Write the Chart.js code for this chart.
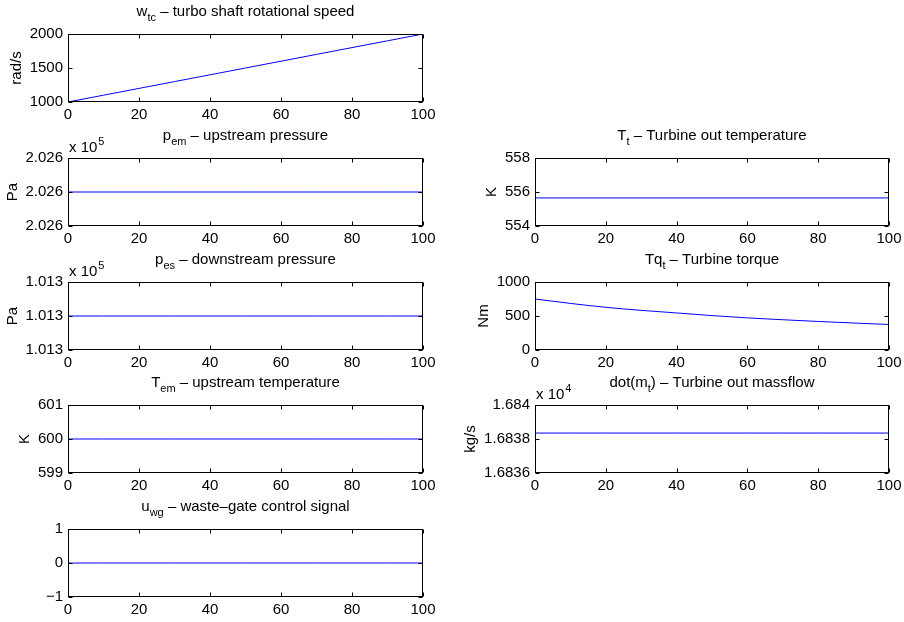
<!DOCTYPE html>
<html>
<head>
<meta charset="utf-8">
<script src="https://cdn.jsdelivr.net/npm/chart.js@4.4.0/dist/chart.umd.min.js"></script>
<style>
  html, body { margin: 0; padding: 0; background: #fff; overflow: hidden; }
  body { width: 904px; height: 622px; position: relative; }
  canvas { position: absolute; }
</style>
</head>
<body>
<script>
// time samples, shared by every subplot
const time = [0, 10, 20, 30, 40, 50, 60, 70, 80, 90, 100];
const xTicks = [0, 20, 40, 60, 80, 100];

// w_tc - turbo shaft rotational speed
const wTc = [1000, 1100, 1200, 1300, 1400, 1500, 1600, 1700, 1800, 1900, 2000];
const wTcTicks = [1000, 1500, 2000];
const wTcLabels = ['1000', '1500', '2000'];

// p_em - upstream pressure
const pEm = [202600, 202600, 202600, 202600, 202600, 202600, 202600, 202600, 202600, 202600, 202600];
const pEmTicks = [202599.99, 202600, 202600.01];
const pEmLabels = ['2.026', '2.026', '2.026'];

// p_es - downstream pressure
const pEs = [101300, 101300, 101300, 101300, 101300, 101300, 101300, 101300, 101300, 101300, 101300];
const pEsTicks = [101299.99, 101300, 101300.01];
const pEsLabels = ['1.013', '1.013', '1.013'];

// T_em - upstream temperature
const tEm = [600, 600, 600, 600, 600, 600, 600, 600, 600, 600, 600];
const tEmTicks = [599, 600, 601];
const tEmLabels = ['599', '600', '601'];

// u_wg - waste-gate control signal
const uWg = [0, 0, 0, 0, 0, 0, 0, 0, 0, 0, 0];
const uWgTicks = [-1, 0, 1];
const uWgLabels = ['\u22121', '0', '1'];

// T_t - turbine out temperature
const tT = [555.65, 555.65, 555.65, 555.65, 555.65, 555.65, 555.65, 555.65, 555.65, 555.65, 555.65];
const tTTicks = [554, 556, 558];
const tTLabels = ['554', '556', '558'];

// Tq_t - turbine torque
const tqT = [750, 685, 628, 583, 545, 506, 472, 445, 420, 397, 375];
const tqTTicks = [0, 500, 1000];
const tqTLabels = ['0', '500', '1000'];

// dot(m_t) - turbine out massflow
const mT = [16838.35, 16838.35, 16838.35, 16838.35, 16838.35, 16838.35, 16838.35, 16838.35, 16838.35, 16838.35, 16838.35];
const mTTicks = [16836, 16838, 16840];
const mTLabels = ['1.6836', '1.6838', '1.684'];

const FONT = "'Liberation Sans', Arial, Helvetica, sans-serif";
const FS = 15;
const SUB = 11;

// margins of each canvas around its axes box
const L = 75, TOP = 34, R = 20, BOTTOM = 28;

Chart.defaults.font.family = FONT;
Chart.defaults.font.size = FS;
Chart.defaults.color = '#000';

function drawRich(ctx, str, cx, base) {
  const parts = str.split(/_\{([^}]*)\}/);
  let total = 0;
  parts.forEach((p, i) => {
    ctx.font = (i % 2 ? SUB : FS) + 'px ' + FONT;
    total += ctx.measureText(p).width;
  });
  let x = cx - total / 2;
  ctx.textAlign = 'left';
  ctx.textBaseline = 'alphabetic';
  parts.forEach((p, i) => {
    const sub = i % 2 === 1;
    ctx.font = (sub ? SUB : FS) + 'px ' + FONT;
    ctx.fillText(p, x, sub ? base + 5 : base);
    x += ctx.measureText(p).width;
  });
}

const matlabPlugin = {
  id: 'matlab',
  afterDraw(chart, args, opts) {
    const { ctx, chartArea: a } = chart;
    const xs = chart.scales.x, ys = chart.scales.y;
    ctx.save();
    ctx.strokeStyle = '#000';
    ctx.fillStyle = '#000';
    ctx.lineWidth = 1;
    const l = Math.round(a.left) + 0.5, r = Math.round(a.right) - 0.5;
    const t = Math.round(a.top) + 0.5, b = Math.round(a.bottom) - 0.5;
    ctx.strokeRect(l, t, r - l, b - t);
    const tl = 4;
    ctx.beginPath();
    xs.ticks.forEach(tk => {
      const px = Math.round(xs.getPixelForValue(tk.value)) + 0.5;
      ctx.moveTo(px, b); ctx.lineTo(px, b - tl);
      ctx.moveTo(px, t); ctx.lineTo(px, t + tl);
    });
    ys.ticks.forEach(tk => {
      const py = Math.round(ys.getPixelForValue(tk.value)) + 0.5;
      ctx.moveTo(l, py); ctx.lineTo(l + tl, py);
      ctx.moveTo(r, py); ctx.lineTo(r - tl, py);
    });
    ctx.stroke();

    drawRich(ctx, opts.title, (a.left + a.right) / 2, a.top - 18);

    if (opts.exp) {
      ctx.font = FS + 'px ' + FONT;
      ctx.textAlign = 'left';
      ctx.textBaseline = 'alphabetic';
      ctx.fillText('x 10', a.left + 1, a.top - 6);
      const w = ctx.measureText('x 10').width;
      ctx.font = SUB + 'px ' + FONT;
      ctx.fillText(opts.exp, a.left + 2 + w, a.top - 13);
    }

    if (opts.ylabel) {
      ctx.font = FS + 'px ' + FONT;
      let maxW = 0;
      ys.ticks.forEach(tk => { maxW = Math.max(maxW, ctx.measureText(tk.label).width); });
      ctx.translate(a.left - 5 - maxW - 13, (a.top + a.bottom) / 2);
      ctx.rotate(-Math.PI / 2);
      ctx.textAlign = 'center';
      ctx.textBaseline = 'middle';
      ctx.fillText(opts.ylabel, 0, 0);
    }
    ctx.restore();
  }
};

const panels = [
  { title: 'w_{tc} \u2013 turbo shaft rotational speed', ylabel: 'rad/s', data: wTc, ticks: wTcTicks, labels: wTcLabels, box: [68, 34, 355] },
  { title: 'p_{em} \u2013 upstream pressure', ylabel: 'Pa', exp: '5', data: pEm, ticks: pEmTicks, labels: pEmLabels, box: [68, 158, 355] },
  { title: 'p_{es} \u2013 downstream pressure', ylabel: 'Pa', exp: '5', data: pEs, ticks: pEsTicks, labels: pEsLabels, box: [68, 282, 355] },
  { title: 'T_{em} \u2013 upstream temperature', ylabel: 'K', data: tEm, ticks: tEmTicks, labels: tEmLabels, box: [68, 405, 355] },
  { title: 'u_{wg} \u2013 waste\u2013gate control signal', ylabel: '', data: uWg, ticks: uWgTicks, labels: uWgLabels, box: [68, 529, 355] },
  { title: 'T_{t} \u2013 Turbine out temperature', ylabel: 'K', data: tT, ticks: tTTicks, labels: tTLabels, box: [535, 158, 354] },
  { title: 'Tq_{t} \u2013 Turbine torque', ylabel: 'Nm', data: tqT, ticks: tqTTicks, labels: tqTLabels, box: [535, 282, 354], smooth: true },
  { title: 'dot(m_{t}) \u2013 Turbine out massflow', ylabel: 'kg/s', exp: '4', data: mT, ticks: mTTicks, labels: mTLabels, box: [535, 405, 354] }
];

const BOX_H = 68;

panels.forEach(p => {
  const [bx, by, bw] = p.box;
  const cv = document.createElement('canvas');
  cv.width = L + bw + R;
  cv.height = TOP + BOX_H + BOTTOM;
  cv.style.left = (bx - L) + 'px';
  cv.style.top = (by - TOP) + 'px';
  document.body.appendChild(cv);

  new Chart(cv.getContext('2d'), {
    type: 'line',
    data: {
      datasets: [{
        data: time.map((t, i) => ({ x: t, y: p.data[i] })),
        borderColor: '#0000ff',
        borderWidth: 1,
        pointRadius: 0,
        fill: false,
        cubicInterpolationMode: p.smooth ? 'monotone' : 'default',
        tension: 0
      }]
    },
    options: {
      responsive: false,
      animation: false,
      events: [],
      layout: { padding: { top: TOP, right: R, left: 0, bottom: 0 } },
      plugins: {
        legend: { display: false },
        tooltip: { enabled: false },
        matlab: { title: p.title, ylabel: p.ylabel, exp: p.exp }
      },
      scales: {
        x: {
          type: 'linear',
          min: 0,
          max: 100,
          grid: { display: false, drawTicks: false },
          border: { display: false },
          afterBuildTicks: s => { s.ticks = xTicks.map(v => ({ value: v })); },
          afterFit: s => { s.height = BOTTOM; },
          ticks: { padding: 4, maxRotation: 0, autoSkip: false, callback: v => String(v) }
        },
        y: {
          type: 'linear',
          min: p.ticks[0],
          max: p.ticks[p.ticks.length - 1],
          grid: { display: false, drawTicks: false },
          border: { display: false },
          afterBuildTicks: s => { s.ticks = p.ticks.map(v => ({ value: v })); },
          afterFit: s => { s.width = L; },
          ticks: { padding: 5, autoSkip: false, callback: (v, i) => p.labels[i] }
        }
      }
    },
    plugins: [matlabPlugin]
  });
});
</script>
</body>
</html>
